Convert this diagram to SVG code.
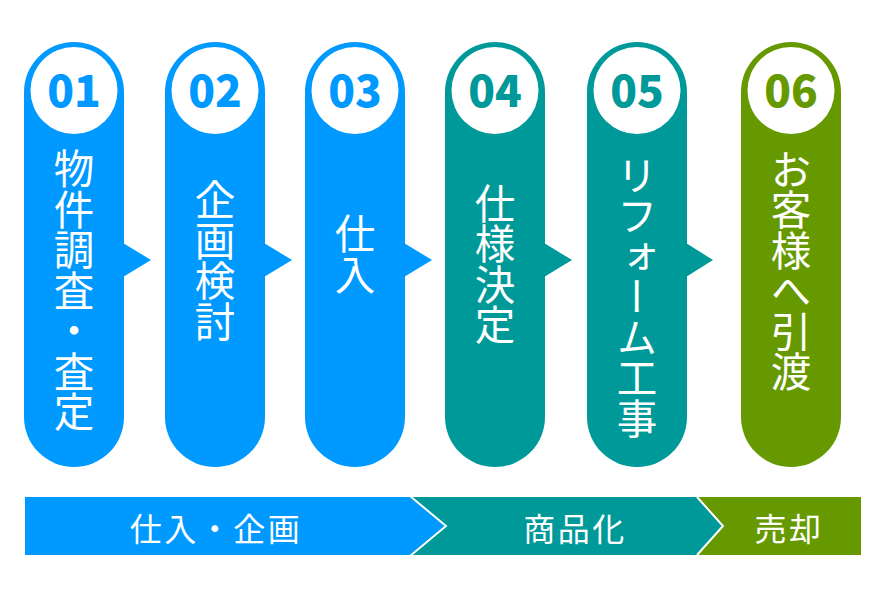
<svg xmlns="http://www.w3.org/2000/svg" width="895" height="591" viewBox="0 0 895 591">
<style>
.blue{fill:#0099ff}
.teal{fill:#009999}
.green{fill:#669900}
.circ{fill:#ffffff}
.num{font-family:"Noto Sans CJK JP","Noto Sans",sans-serif;font-weight:900;font-size:44px;text-anchor:middle}
.vt{font-family:"Noto Sans CJK JP","Noto Sans CJK SC",sans-serif;font-weight:400;font-size:40.5px;fill:#ffffff;writing-mode:vertical-rl;text-anchor:middle}
.bt{font-family:"Noto Sans CJK JP","Noto Sans CJK SC",sans-serif;font-weight:400;font-size:32px;fill:#ffffff;text-anchor:middle;letter-spacing:2.5px}
.sep{fill:none;stroke:#ffffff;stroke-width:2}
</style>
<rect width="895" height="591" fill="#ffffff"/>
<g id="connectors">
<polygon class="blue" points="123,243 151,260 123,277"/>
<polygon class="blue" points="264,243 292,260 264,277"/>
<polygon class="blue" points="404,243 432,260 404,277"/>
<polygon class="teal" points="544,243 572,260 544,277"/>
<polygon class="teal" points="686,243 713,260 686,277"/>
</g>
<g id="step01">
<rect class="blue" x="24" y="42" width="100" height="425" rx="50" ry="50"/>
<circle class="circ" cx="74" cy="90.5" r="43.5"/>
<text class="num" x="74" y="107" fill="#0099ff">01</text>
<text class="vt" x="74" y="290.5">物件調査・査定</text>
</g>
<g id="step02">
<rect class="blue" x="165" y="42" width="100" height="425" rx="50" ry="50"/>
<circle class="circ" cx="215" cy="90.5" r="43.5"/>
<text class="num" x="215" y="107" fill="#0099ff">02</text>
<text class="vt" x="215" y="260.5">企画検討</text>
</g>
<g id="step03">
<rect class="blue" x="305" y="42" width="100" height="425" rx="50" ry="50"/>
<circle class="circ" cx="355" cy="90.5" r="43.5"/>
<text class="num" x="355" y="107" fill="#0099ff">03</text>
<text class="vt" x="355" y="254">仕入</text>
</g>
<g id="step04">
<rect class="teal" x="445" y="42" width="100" height="425" rx="50" ry="50"/>
<circle class="circ" cx="495" cy="90.5" r="43.5"/>
<text class="num" x="495" y="107" fill="#009999">04</text>
<text class="vt" x="495" y="264">仕様決定</text>
</g>
<g id="step05">
<rect class="teal" x="587" y="42" width="100" height="425" rx="50" ry="50"/>
<circle class="circ" cx="637" cy="90.5" r="43.5"/>
<text class="num" x="637" y="107" fill="#009999">05</text>
<text class="vt" x="637" y="297">リフォーム工事</text>
</g>
<g id="step06">
<rect class="green" x="741" y="42" width="100" height="425" rx="50" ry="50"/>
<circle class="circ" cx="791" cy="90.5" r="43.5"/>
<text class="num" x="791" y="107" fill="#669900">06</text>
<text class="vt" x="791" y="270.5">お客様へ引渡</text>
</g>
<g id="phase-bar">
<rect class="green" x="690" y="497" width="171" height="58"/>
<polygon class="teal" points="400,497 697,497 723,526 697,555 400,555"/>
<polyline class="sep" points="697,497 723,526 697,555"/>
<polygon class="blue" points="25,497 409,497 445,526 409,555 25,555"/>
<polyline class="sep" points="410,496 446,526 410,556"/>
<text class="bt" x="216" y="541">仕入・企画</text>
<text class="bt" x="575" y="541">商品化</text>
<text class="bt" x="789" y="541">売却</text>
</g>
</svg>
